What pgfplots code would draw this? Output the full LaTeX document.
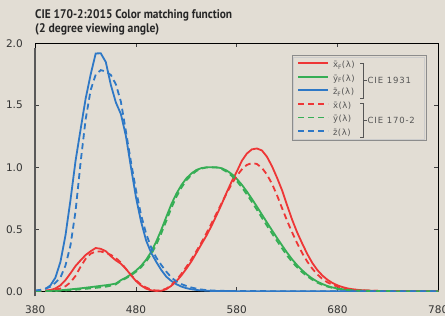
\documentclass[border=0pt]{standalone}
\usepackage{pgfplots}
\pgfplotsset{compat=1.18}
\usepackage{pgfplotstable}
\usepackage{graphicx}
\usepackage{fontspec}
\setmainfont{DejaVu Sans}
\newfontfamily\titlefont{PT Sans}
\newfontfamily\legfont{DejaVu Sans}[LetterSpace=6]
\newfontfamily\grpfont{DejaVu Sans}[LetterSpace=10]
\definecolor{bg}{HTML}{E2DDD4}
\definecolor{cred}{HTML}{EE3636}
\definecolor{cgreen}{HTML}{36AE55}
\definecolor{cblue}{HTML}{2E78C6}
\definecolor{legtext}{HTML}{555555}
\definecolor{ticktext}{HTML}{333333}

% dashed set (CIE 170-2 in legend)
\pgfplotstableread{
l x z
380 0.00126 0.006450
385 0.00206 0.010550
390 0.00390 0.020050
395 0.00704 0.036210
400 0.01317 0.067850
405 0.02133 0.110200
410 0.04003 0.207400
415 0.07142 0.371300
420 0.12363 0.645600
425 0.19759 1.039050
430 0.26119 1.385600
435 0.30222 1.622960
440 0.32042 1.747060
445 0.32022 1.782600
450 0.30930 1.772110
455 0.29320 1.744100
460 0.26754 1.669200
465 0.23101 1.528100
470 0.17973 1.287640
475 0.13073 1.041900
480 0.08799 0.812950
485 0.05331 0.616200
490 0.02945 0.465180
495 0.01352 0.353300
500 0.00451 0.272000
505 0.0064 0.212300
510 0.0207 0.158200
515 0.0484 0.111700
520 0.0888 0.078250
525 0.1396 0.057250
530 0.1966 0.042160
535 0.2579 0.029840
540 0.3237 0.020300
545 0.3939 0.013400
550 0.4686 0.008750
555 0.5474 0.005750
560 0.6287 0.003900
565 0.7104 0.002750
570 0.7901 0.002100
575 0.8646 0.001800
580 0.9299 0.001650
585 0.9820 0.001400
590 1.0184 0.001100
595 1.0335 0.001000
600 1.0259 0.000800
605 0.9943 0.000600
610 0.9400 0.000340
615 0.8658 0.000240
620 0.7728 0.000190
625 0.6689 0.000100
630 0.5675 0.000050
635 0.4734 0.000030
640 0.3857 0.000020
645 0.3066 0.000010
650 0.2385 0
655 0.1817 0
660 0.1352 0
665 0.0984 0
670 0.0713 0
675 0.0522 0
680 0.0375 0
685 0.0261 0
690 0.0181 0
695 0.0128 0
700 0.0092 0
705 0.0065 0
710 0.0047 0
715 0.0034 0
720 0.0024 0
730 0.0012 0
740 0.0006 0
750 0.0003 0
760 0.0001 0
780 0.0000 0
}\dashxz

\pgfplotstableread{
l y
380 0.0000
390 0.0003
400 0.0020
410 0.0060
420 0.0120
430 0.0190
440 0.0270
450 0.0360
455 0.0450
460 0.0550
465 0.0840
470 0.1040
475 0.1280
480 0.1570
485 0.1930
490 0.2380
495 0.2970
500 0.3730
505 0.4650
510 0.5660
515 0.6690
520 0.7600
525 0.8340
530 0.8940
535 0.9380
540 0.9700
545 0.9890
550 0.9980
555 0.9990
560 0.9970
565 0.9860
570 0.9630
575 0.9300
580 0.8880
585 0.8380
590 0.7810
595 0.7200
600 0.6570
605 0.5920
610 0.5280
615 0.4660
620 0.4050
625 0.3450
630 0.2870
635 0.2360
640 0.1920
645 0.1530
650 0.1200
655 0.0930
660 0.0690
665 0.0510
670 0.0370
675 0.0270
680 0.0190
685 0.0138
690 0.0095
695 0.0066
700 0.0047
710 0.0024
720 0.0012
740 0.0003
760 0.0001
780 0.0000
}\dashy

% solid set (CIE 1931 in legend)
\pgfplotstableread{
l x z
390 0.003770 0.018473
395 0.009383 0.046098
400 0.022143 0.109609
405 0.047430 0.236925
410 0.089538 0.450837
415 0.144621 0.737882
420 0.203573 1.051821
425 0.248852 1.305008
430 0.291825 1.552826
435 0.322709 1.748280
440 0.348255 1.917479
445 0.341848 1.918437
450 0.322464 1.848545
455 0.282665 1.664439
460 0.248525 1.522157
465 0.221978 1.428440
470 0.180691 1.250610
475 0.129192 0.999179
480 0.081829 0.755238
485 0.046009 0.561731
490 0.020840 0.409931
495 0.007098 0.310594
500 0.002462 0.237675
505 0.003649 0.172002
510 0.015570 0.117680
515 0.043152 0.082835
520 0.079629 0.056504
525 0.126847 0.037519
530 0.181803 0.024382
535 0.240502 0.015662
540 0.309812 0.009846
545 0.380424 0.006131
550 0.449421 0.003790
555 0.528023 0.002327
560 0.613378 0.001432
565 0.701677 0.000882
570 0.796775 0.000545
575 0.885338 0.000339
580 0.963839 0.000212
585 1.051011 0.000134
590 1.109767 0.000085
595 1.143620 0.000055
600 1.151033 0.000035
605 1.134757 0.000023
610 1.083928 0.000016
615 1.007344 0.000010
620 0.914288 0
625 0.813557 0
630 0.692472 0
635 0.575541 0
640 0.473122 0
645 0.384499 0
650 0.299737 0
655 0.227779 0
660 0.170791 0
665 0.126381 0
670 0.092246 0
675 0.066400 0
680 0.047106 0
685 0.032921 0
690 0.022623 0
695 0.015754 0
700 0.010968 0
705 0.007609 0
710 0.005215 0
715 0.003569 0
720 0.002465 0
730 0.001186 0
740 0.000578 0
750 0.000290 0
760 0.000145 0
770 0.000070 0
780 0.000040 0
}\solidxz

\pgfplotstableread{
l y
390 0.0005
400 0.0040
410 0.0110
420 0.0190
430 0.0280
440 0.0380
450 0.0480
455 0.0540
460 0.0620
465 0.0890
470 0.1100
475 0.1360
480 0.1660
485 0.2040
490 0.2530
495 0.3160
500 0.3990
505 0.4930
510 0.5980
515 0.7000
520 0.7850
525 0.8550
530 0.9100
535 0.9500
540 0.9780
545 0.9930
550 0.9990
555 1.0000
560 0.9990
565 0.9920
570 0.9730
575 0.9450
580 0.9060
585 0.8590
590 0.8040
595 0.7450
600 0.6820
605 0.6180
610 0.5540
615 0.4910
620 0.4290
625 0.3690
630 0.3100
635 0.2560
640 0.2090
645 0.1680
650 0.1320
655 0.1020
660 0.0770
665 0.0580
670 0.0420
675 0.0300
680 0.0220
685 0.0160
690 0.0110
695 0.0078
700 0.0055
710 0.0028
720 0.0014
740 0.0003
760 0.0001
780 0.0000
}\solidy

\begin{document}
\begin{tikzpicture}[x=1pt,y=1pt]
\useasboundingbox (0,0) rectangle (445,316);
\fill[bg] (0,0) rectangle (445,316);
\node[anchor=base west, inner sep=0pt, text=black!85] at (35,297)
  {\resizebox{197pt}{\height}{\titlefont\bfseries\fontsize{12.5}{14}\selectfont CIE 170-2:2015 Color matching function}};
\node[anchor=base west, inner sep=0pt, text=black!85] at (35,283)
  {\resizebox{124pt}{\height}{\titlefont\bfseries\fontsize{12.5}{14}\selectfont (2 degree viewing angle)}};
\begin{axis}[
  at={(35,20)}, anchor=south west,
  scale only axis, width=403pt, height=248pt,
  xmin=380, xmax=780, ymin=0, ymax=2,
  xtick={380,480,580,680,780},
  ytick={0,0.5,1,1.5,2},
  y tick label style={xshift=-9pt, /pgf/number format/fixed, /pgf/number format/fixed zerofill, /pgf/number format/precision=1},
  x tick label style={yshift=-11pt},
  /pgf/number format/assume math mode=true,
  ticklabel style={font=\fontsize{10.5}{12}\selectfont, text=ticktext},
  tick align=inside, major tick length=4pt,
  tick style={black!75, line width=0.9pt},
  axis line style={black, line width=1pt},
  axis background/.style={fill=bg},
  legend style={at={(axis description cs:0.650,0.927)}, anchor=north west,
    draw=none, fill=none, inner sep=0pt, outer sep=0pt,
    font=\legfont\fontsize{8.5}{9}\selectfont, text=legtext,
    row sep=5.4pt,
    nodes={inner sep=0pt, text height=6.2pt, text depth=2pt},
    /tikz/every odd column/.append style={column sep=4pt}},
  legend cell align=left,
  legend image code/.code={\draw[#1, line width=1.8pt] (0pt,2.3pt) -- (30pt,2.3pt);},
]
\addplot[cred, line width=1.8pt] table[x=l, y=x] {\solidxz};
\addplot[cgreen, line width=1.8pt] table[x=l, y=y] {\solidy};
\addplot[cblue, line width=1.8pt] table[x=l, y=z] {\solidxz};
\addplot[cred, line width=1.8pt, dash pattern=on 6pt off 4pt] table[x=l, y=x] {\dashxz};
\addplot[cgreen, line width=1.8pt, dash pattern=on 6pt off 4pt] table[x=l, y=y] {\dashy};
\addplot[cblue, line width=1.8pt, dash pattern=on 6pt off 4pt] table[x=l, y=z] {\dashxz};
\legend{\={x}\textsubscript{F}(λ), \={y}\textsubscript{F}(λ), \={z}\textsubscript{F}(λ), \={x}(λ), \={y}(λ), \={z}(λ)}
\end{axis}
% left axis heavier gray
\draw[black!65, line width=1.8pt] (35,19.5) -- (35,268);
% legend frame
\draw[black!45, line width=1pt] (292,260) rectangle (426,175);
\draw[white!80!black, line width=0.8pt] (293.5,258.5) rectangle (424.5,176.5);
% brackets
\begin{scope}[legtext, line width=0.8pt]
\draw (360,253) -- (363,253) -- (363,218) -- (360,218);
\draw (363,235.5) -- (367,235.5);
\draw (360,213) -- (363,213) -- (363,179) -- (360,179);
\draw (363,196) -- (367,196);
\end{scope}
\node[anchor=west, inner sep=0pt, text=legtext, font=\grpfont\fontsize{8.5}{10}\selectfont] at (367.5,235.5) {CIE 1931};
\node[anchor=west, inner sep=0pt, text=legtext, font=\grpfont\fontsize{8.5}{10}\selectfont] at (367.5,196) {CIE 170-2};
\end{tikzpicture}
\end{document}
